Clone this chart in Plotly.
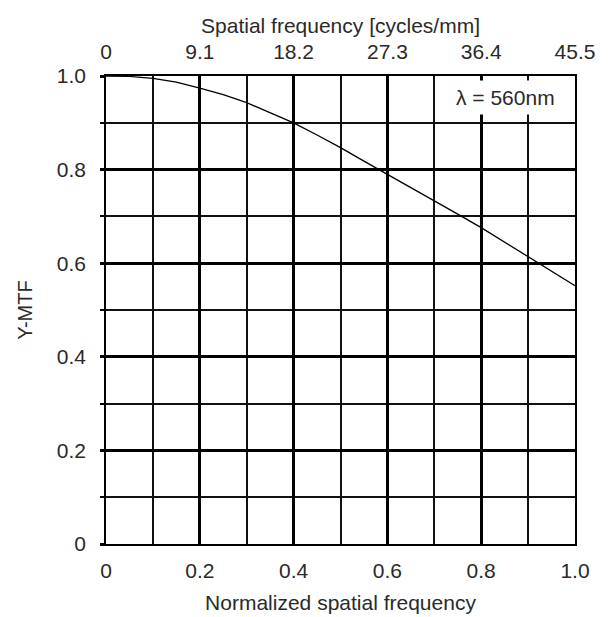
import plotly.graph_objects as go

# Data
norm_freq = [0.0, 0.05, 0.1, 0.15, 0.2, 0.25, 0.3, 0.35, 0.4, 0.45, 0.5, 0.55,
             0.6, 0.65, 0.7, 0.75, 0.8, 0.85, 0.9, 0.95, 1.0]
y_mtf = [1.0, 0.999, 0.995, 0.987, 0.974, 0.960, 0.943, 0.922, 0.900, 0.874,
         0.847, 0.818, 0.790, 0.761, 0.733, 0.705, 0.676, 0.645, 0.614, 0.583, 0.552]

bottom_tickvals = [0, 0.2, 0.4, 0.6, 0.8, 1.0]
bottom_ticktext = ["0", "0.2", "0.4", "0.6", "0.8", "1.0"]
top_tickvals = [0, 9.1, 18.2, 27.3, 36.4, 45.5]
top_ticktext = ["0", "9.1", "18.2", "27.3", "36.4", "45.5"]
y_tickvals = [0, 0.2, 0.4, 0.6, 0.8, 1.0]
y_ticktext = ["0", "0.2", "0.4", "0.6", "0.8", "1.0"]
wavelength_label = "λ = 560nm"

FONT = "Liberation Sans, Arial, sans-serif"
TXT = "#2a2a2a"
FS = 21

fig = go.Figure()
fig.add_trace(go.Scatter(x=norm_freq, y=y_mtf, mode="lines",
                         line=dict(color="black", width=1.3),
                         showlegend=False, hoverinfo="skip"))
# helper trace for top axis (invisible)
fig.add_trace(go.Scatter(x=top_tickvals, y=[None]*len(top_tickvals), xaxis="x2",
                         mode="lines", showlegend=False, hoverinfo="skip"))

# page body has an 8px margin, so the figure is sized to fit the window
fig.update_layout(
    width=607, height=609,
    margin=dict(l=98, r=40, t=68, b=73, autoexpand=False),
    paper_bgcolor="white", plot_bgcolor="white",
    font=dict(family=FONT, size=FS, color=TXT),
    xaxis=dict(
        range=[0, 1], tickmode="array", tickvals=bottom_tickvals, ticktext=bottom_ticktext,
        showgrid=True, gridcolor="black", gridwidth=3,
        minor=dict(tickmode="linear", tick0=0, dtick=0.1, showgrid=True,
                   gridcolor="#111", gridwidth=1.5, ticks=""),
        showline=True, linecolor="black", linewidth=1.5, mirror=True,
        ticks="", ticklabelstandoff=7, zeroline=False, automargin=False,
        title=dict(text="Normalized spatial frequency", standoff=14,
                   font=dict(size=FS, color=TXT)),
        fixedrange=True,
    ),
    xaxis2=dict(
        range=[0, 45.5], overlaying="x", side="top", anchor="y",
        tickmode="array", tickvals=top_tickvals, ticktext=top_ticktext,
        showgrid=False, zeroline=False, ticks="inside", ticklen=4,
        tickcolor="black", tickwidth=2, ticklabelstandoff=12, automargin=False,
        title=dict(text="Spatial frequency [cycles/mm]", standoff=0,
                   font=dict(size=FS, color=TXT)),
        fixedrange=True,
    ),
    yaxis=dict(
        range=[0, 1], tickmode="array", tickvals=y_tickvals, ticktext=y_ticktext,
        showgrid=True, gridcolor="black", gridwidth=3,
        minor=dict(tickmode="linear", tick0=0, dtick=0.1, showgrid=True,
                   gridcolor="#111", gridwidth=1.5, ticks="outside", ticklen=4,
                   tickcolor="black", tickwidth=1.5),
        showline=True, linecolor="black", linewidth=1.5, mirror=True,
        ticks="outside", ticklen=4, tickcolor="black", tickwidth=3,
        ticklabelstandoff=10, zeroline=False, automargin=False,
        title=dict(text="Y-MTF", standoff=19, font=dict(size=20, color=TXT)),
        fixedrange=True,
    ),
    annotations=[dict(
        x=0.851, y=0.955, xref="x", yref="y", text=wavelength_label,
        showarrow=False, bgcolor="white", borderpad=5,
        font=dict(size=FS, color=TXT, family=FONT),
    )],
)

fig.write_html("out.html")
